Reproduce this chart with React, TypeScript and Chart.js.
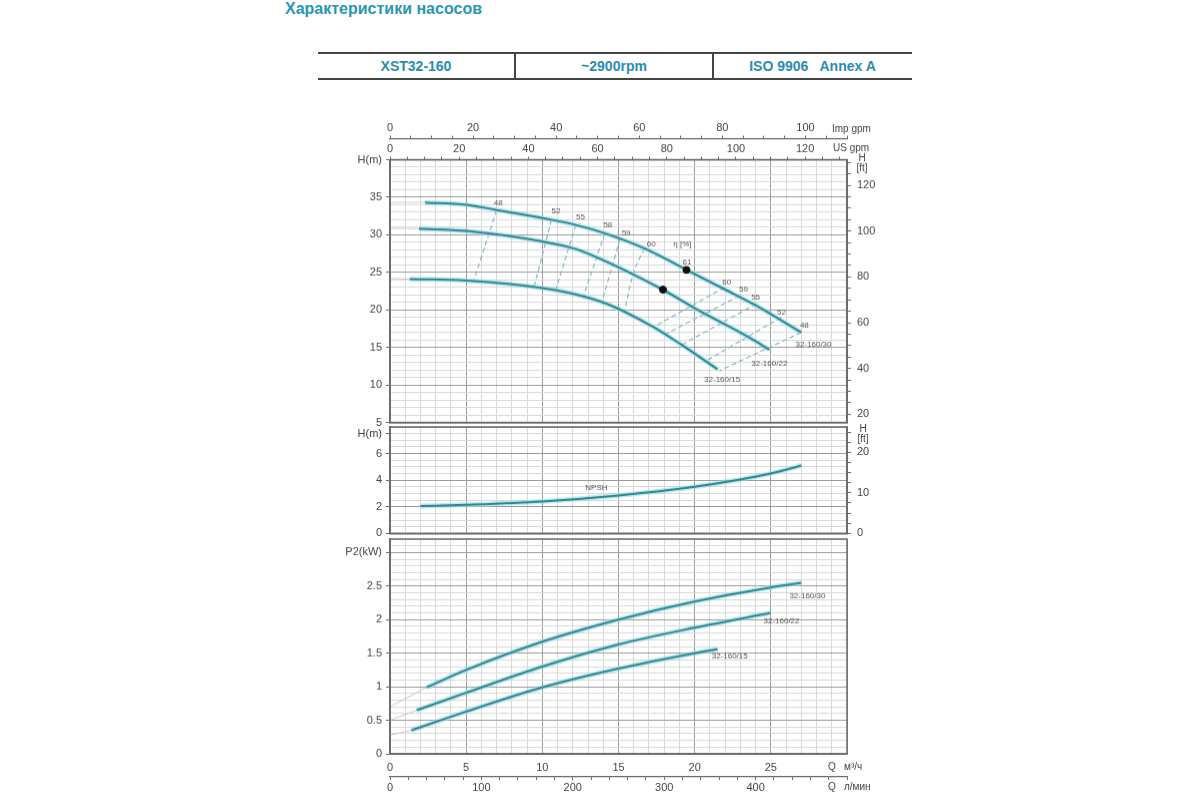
import { useEffect, useRef } from 'react'
import Chart from 'chart.js/auto'

Chart.defaults.font.family = '"Liberation Sans", Arial, sans-serif'

const FT = 3.28084
const Q_MAX = 30
const US_MAX = 132.09
const IMP_MAX = 110
const LPM_MAX = 500

// H-Q curves (Q m³/h, H m)
const hq30Q = [2.3, 5, 7, 10.6, 12.2, 14.1, 16.8, 19.5, 22.1, 24, 27]
const hq30H = [34.3, 34.0, 33.3, 32.0, 31.3, 30.2, 28.1, 25.3, 22.6, 20.6, 17.0]
const hq22Q = [1.9, 5, 10, 12.2, 13.8, 17.9, 20.1, 23.6, 24.9]
const hq22H = [30.8, 30.5, 29.1, 28.1, 26.8, 22.7, 20.1, 16.3, 14.7]
const hq15Q = [1.3, 5, 10, 12.7, 14.6, 17.3, 19.1, 21.5]
const hq15H = [24.1, 23.9, 22.9, 21.8, 20.5, 17.7, 15.4, 12.1]
const hqZeroH = [34.3, 30.85, 24.2]

// iso-efficiency lines [top end, bottom end]
const etaLeftQ = [[7.0, 5.5], [10.6, 9.45], [12.2, 10.9], [14.1, 12.7], [15.1, 13.9]]
const etaLeftH = [[33.3, 23.9], [32.0, 23.0], [31.3, 22.8], [30.2, 21.8], [29.45, 21.0]]
const eta60Q = [16.7, 16.0, 15.4]
const eta60H = [28.2, 25.0, 19.9]
const etaRightQ = [[21.97, 17.26], [22.95, 18.03], [24.05, 19.1], [25.68, 20.77], [27.0, 21.64]]
const etaRightH = [[23.0, 17.67], [21.9, 16.7], [20.8, 15.3], [19.0, 13.23], [17.0, 11.9]]
const bepQ = [19.46, 17.92]
const bepH = [25.32, 22.69]

const hNoteText = ['48', '52', '55', '58', '59', '60', 'η [%]', '61', '60', '59', '55', '52', '48', '32-160/30', '32-160/22', '32-160/15']
const hNoteQ = [7.1, 10.9, 12.5, 14.3, 15.5, 17.15, 19.2, 19.5, 22.1, 23.2, 24.0, 25.7, 27.2, 27.8, 24.9, 21.8]
const hNoteH = [34.2, 33.1, 32.3, 31.3, 30.25, 28.8, 28.8, 26.4, 23.7, 22.7, 21.7, 19.6, 17.9, 15.35, 12.9, 10.65]

// NPSH (m)
const npshQ = [2, 5, 10, 15, 20, 25, 27]
const npshH = [2.05, 2.15, 2.4, 2.85, 3.5, 4.5, 5.1]

// P2 (kW)
const p30Q = [2.4, 5, 10, 15, 20, 25, 27]
const p30P = [0.99, 1.25, 1.67, 2.0, 2.27, 2.48, 2.55]
const p22Q = [1.75, 5, 10, 15, 20, 25]
const p22P = [0.65, 0.91, 1.3, 1.63, 1.88, 2.1]
const p15Q = [1.4, 5, 10, 15, 20, 21.5]
const p15P = [0.35, 0.63, 0.99, 1.27, 1.5, 1.56]
const pZero = [0.7, 0.5, 0.28]
const pNoteText = ['32-160/30', '32-160/22', '32-160/15']
const pNoteQ = [27.4, 25.7, 22.3]
const pNoteP = [2.35, 1.97, 1.45]

const MAJOR = '#9c9c9c'
const MINOR = '#d9d9d9'
const AXIS = '#6a6a6a'
const TEAL = '#2d8794'
const HALO = 'rgba(150,215,226,0.6)'
const DASH = '#86b8c4'
const TEXT = '#444'
const FONT = '"Liberation Sans", Arial, sans-serif'

const pts = (qs: number[], vs: number[]) => qs.map((q, i) => ({ x: q, y: vs[i] }))
const sized = (w?: number, h?: number) => (axis: any) => {
  if (w !== undefined) axis.width = w
  if (h !== undefined) axis.height = h
}

function curve(qs: number[], vs: number[], zero: number) {
  const data = pts(qs, vs)
  return [
    { data: [{ x: 0, y: zero }, data[0]], borderColor: '#c9c9c9', borderWidth: 1, pointRadius: 0, order: 3 },
    { data, borderColor: HALO, borderWidth: 5, pointRadius: 0, cubicInterpolationMode: 'monotone', order: 2 },
    { data, borderColor: TEAL, borderWidth: 2, pointRadius: 0, cubicInterpolationMode: 'monotone', order: 1 },
  ]
}

function dashed(qs: number[], vs: number[]) {
  return { data: pts(qs, vs), borderColor: DASH, borderWidth: 1.2, borderDash: [5, 3], pointRadius: 0, tension: 0.4, order: 4 }
}

function qAxis(showLabels: boolean, height: number) {
  return {
    type: 'linear', position: 'bottom', min: 0, max: Q_MAX,
    afterFit: sized(undefined, height),
    border: { color: AXIS, width: 1.5 },
    grid: { color: (c: any) => (c.tick && Math.round(c.tick.value) % 5 === 0 ? MAJOR : MINOR), drawTicks: false },
    ticks: {
      display: showLabels, stepSize: 1, autoSkip: false, maxRotation: 0, padding: 7, color: TEXT, font: { size: 11 },
      callback: (v: number) => (v % 5 === 0 && v < Q_MAX ? String(v) : ''),
    },
  }
}

function leftAxis(min: number, max: number, step: number, label: (v: number) => string, major: (v: number) => boolean) {
  return {
    type: 'linear', position: 'left', min, max,
    afterFit: sized(60),
    border: { color: AXIS, width: 1.5 },
    grid: {
      color: (c: any) => (c.tick && major(c.tick.value) ? MAJOR : MINOR),
      tickColor: (c: any) => (c.tick && label(c.tick.value) ? AXIS : 'rgba(0,0,0,0)'),
      tickLength: 4,
    },
    ticks: { stepSize: step, autoSkip: false, padding: 4, color: TEXT, font: { size: 11 }, callback: (v: number) => label(v) },
  }
}

function ftAxis(minM: number, maxM: number, step: number, every: number) {
  return {
    type: 'linear', position: 'right', min: minM * FT, max: maxM * FT,
    afterFit: sized(53),
    border: { color: AXIS, width: 1.5 },
    grid: { drawOnChartArea: false, color: AXIS, tickLength: 4 },
    ticks: {
      stepSize: step, includeBounds: false, autoSkip: false, padding: 6, color: TEXT, font: { size: 11 },
      callback: (v: number) => (Math.abs(v % every) < 1e-6 ? String(v) : ''),
    },
  }
}

function flowAxis(position: string, max: number, weight: number, height: number, step: number, every: number, last: number) {
  return {
    type: 'linear', position, min: 0, max, weight,
    afterFit: sized(undefined, height),
    border: { color: AXIS, width: 1.2 },
    grid: { drawOnChartArea: false, color: AXIS, tickLength: 3 },
    ticks: {
      stepSize: step, includeBounds: false, autoSkip: false, maxRotation: 0, padding: 1, color: TEXT, font: { size: 11 },
      callback: (v: number) => {
        const r = Math.round(v)
        return r % every === 0 && r <= last ? String(r) : ''
      },
    },
  }
}

const framePlugin = {
  id: 'frame',
  afterDatasetsDraw(chart: any) {
    const a = chart.chartArea
    const ctx = chart.ctx
    ctx.save()
    ctx.strokeStyle = AXIS
    ctx.lineWidth = 1.5
    ctx.strokeRect(a.left, a.top, a.right - a.left, a.bottom - a.top)
    ctx.restore()
  },
}

function notesPlugin(id: string, text: string[], xs: number[], ys: number[]) {
  return {
    id,
    afterDatasetsDraw(chart: any) {
      const { ctx, scales } = chart
      ctx.save()
      ctx.fillStyle = '#555'
      ctx.font = `8px ${FONT}`
      ctx.textAlign = 'center'
      ctx.textBaseline = 'middle'
      text.forEach((t, i) => ctx.fillText(t, scales.x.getPixelForValue(xs[i]), scales.y.getPixelForValue(ys[i])))
      ctx.restore()
    },
  }
}

type Cap = { t: string; dx: number; dy: number; from: 'top' | 'bottom'; align: CanvasTextAlign }
function capsPlugin(id: string, caps: Cap[]) {
  return {
    id,
    afterDraw(chart: any) {
      const { ctx, chartArea: a } = chart
      ctx.save()
      ctx.fillStyle = TEXT
      ctx.font = `10px ${FONT}`
      ctx.textBaseline = 'middle'
      caps.forEach(c => {
        ctx.textAlign = c.align
        ctx.fillText(c.t, a.right + c.dx, (c.from === 'top' ? a.top : a.bottom) + c.dy)
      })
      ctx.restore()
    },
  }
}

const base = (padding: any) => ({
  responsive: true,
  maintainAspectRatio: false,
  animation: false,
  layout: { padding },
  plugins: { legend: { display: false }, tooltip: { enabled: false } },
})

function makeHQ(): any {
  return {
    type: 'line',
    data: {
      datasets: [
        ...curve(hq30Q, hq30H, hqZeroH[0]),
        ...curve(hq22Q, hq22H, hqZeroH[1]),
        ...curve(hq15Q, hq15H, hqZeroH[2]),
        ...etaLeftQ.map((q, i) => dashed(q, etaLeftH[i])),
        dashed(eta60Q, eta60H),
        ...etaRightQ.map((q, i) => dashed(q, etaRightH[i])),
        { type: 'scatter', data: pts(bepQ, bepH), pointRadius: 3.5, pointBackgroundColor: '#111', pointBorderColor: '#111', order: 0 },
      ],
    },
    options: {
      ...base(0),
      scales: {
        x: qAxis(false, 13),
        xUs: flowAxis('top', US_MAX, 0, 21, 5, 20, 120),
        xImp: flowAxis('top', IMP_MAX, 1, 30.5, 5, 20, 100),
        y: leftAxis(5, 40, 1, v => (v === 40 ? 'H(m)' : v % 5 === 0 ? String(v) : ''), v => v % 5 === 0),
        yFt: ftAxis(5, 40, 5, 20),
      },
    },
    plugins: [
      framePlugin,
      notesPlugin('hNotes', hNoteText, hNoteQ, hNoteH),
      capsPlugin('hCaps', [
        { t: 'Imp gpm', dx: -15, dy: -30.5, from: 'top', align: 'left' },
        { t: 'US gpm', dx: -14, dy: -11, from: 'top', align: 'left' },
        { t: 'H', dx: 15, dy: -1.5, from: 'top', align: 'center' },
        { t: '[ft]', dx: 15, dy: 8.5, from: 'top', align: 'center' },
      ]),
    ],
  }
}

function makeNPSH(): any {
  return {
    type: 'line',
    data: { datasets: curve(npshQ, npshH, npshH[0]).slice(1) },
    options: {
      ...base({ top: 13 }),
      scales: {
        x: qAxis(false, 13),
        y: leftAxis(0, 8, 0.5, v => (v === 7.5 ? 'H(m)' : v % 2 === 0 && v <= 6 ? String(v) : ''), v => v % 2 === 0),
        yFt: ftAxis(0, 8, 2.5, 10),
      },
    },
    plugins: [
      framePlugin,
      notesPlugin('nNotes', ['NPSH'], [13.55], [3.42]),
      capsPlugin('nCaps', [
        { t: 'H', dx: 16, dy: 2.3, from: 'top', align: 'center' },
        { t: '[ft]', dx: 16, dy: 12.5, from: 'top', align: 'center' },
      ]),
    ],
  }
}

function makeP2(): any {
  return {
    type: 'line',
    data: {
      datasets: [
        ...curve(p30Q, p30P, pZero[0]),
        ...curve(p22Q, p22P, pZero[1]),
        ...curve(p15Q, p15P, pZero[2]),
      ],
    },
    options: {
      ...base({ top: 13, right: 53 }),
      scales: {
        x: qAxis(true, 23),
        xL: flowAxis('bottom', LPM_MAX, 1, 23.7, 20, 100, 400),
        y: leftAxis(0, 3.2, 0.1, v => {
          const r = Math.round(v * 10)
          return r === 30 ? 'P2(kW)' : r % 5 === 0 && r <= 25 ? String(r / 10) : ''
        }, v => Math.round(v * 10) % 5 === 0),
      },
    },
    plugins: [
      framePlugin,
      notesPlugin('pNotes', pNoteText, pNoteQ, pNoteP),
      capsPlugin('pCaps', [
        { t: 'Q', dx: -15, dy: 13.7, from: 'bottom', align: 'center' },
        { t: 'м³/ч', dx: -3, dy: 13.2, from: 'bottom', align: 'left' },
        { t: 'Q', dx: -15, dy: 33.7, from: 'bottom', align: 'center' },
        { t: 'л/мин', dx: -3, dy: 33.7, from: 'bottom', align: 'left' },
      ]),
    ],
  }
}

function ChartBox({ make, left, top, width, height }: { make: () => any; left: number; top: number; width: number; height: number }) {
  const canvasRef = useRef<HTMLCanvasElement>(null)
  useEffect(() => {
    if (!canvasRef.current) return
    const chart = new Chart(canvasRef.current, make())
    return () => chart.destroy()
  }, [make])
  return (
    <div style={{ position: 'absolute', left, top, width, height }}>
      <canvas ref={canvasRef} />
    </div>
  )
}

const headTeal = '#2a8db0'
const cell = (left: number, width: number, text: string) => (
  <div style={{ position: 'absolute', left, top: 54, width, height: 25, lineHeight: '25px', textAlign: 'center', color: headTeal, fontWeight: 'bold', fontSize: 14, whiteSpace: 'pre' }}>{text}</div>
)

export default function App() {
  return (
    <div style={{ position: 'absolute', left: 0, top: 0, width: 1200, height: 800, background: '#fff', fontFamily: FONT, overflow: 'hidden' }}>
      <div style={{ position: 'absolute', left: 285, top: 0, color: '#2b95b2', fontWeight: 'bold', fontSize: 16, whiteSpace: 'nowrap' }}>Характеристики насосов</div>
      <div style={{ position: 'absolute', left: 318, top: 52, width: 594, height: 2, background: '#444' }} />
      <div style={{ position: 'absolute', left: 318, top: 78, width: 594, height: 2, background: '#444' }} />
      <div style={{ position: 'absolute', left: 514, top: 53, width: 1.5, height: 26, background: '#444' }} />
      <div style={{ position: 'absolute', left: 712, top: 53, width: 1.5, height: 26, background: '#444' }} />
      {cell(318, 196, 'XST32-160')}
      {cell(515, 198, '~2900rpm')}
      {cell(713, 199, 'ISO 9906   Annex A')}
      <ChartBox make={makeHQ} left={330} top={108} width={570} height={326.5} />
      <ChartBox make={makeNPSH} left={330} top={413.7} width={570} height={132.3} />
      <ChartBox make={makeP2} left={330} top={526.3} width={570} height={273.7} />
    </div>
  )
}
